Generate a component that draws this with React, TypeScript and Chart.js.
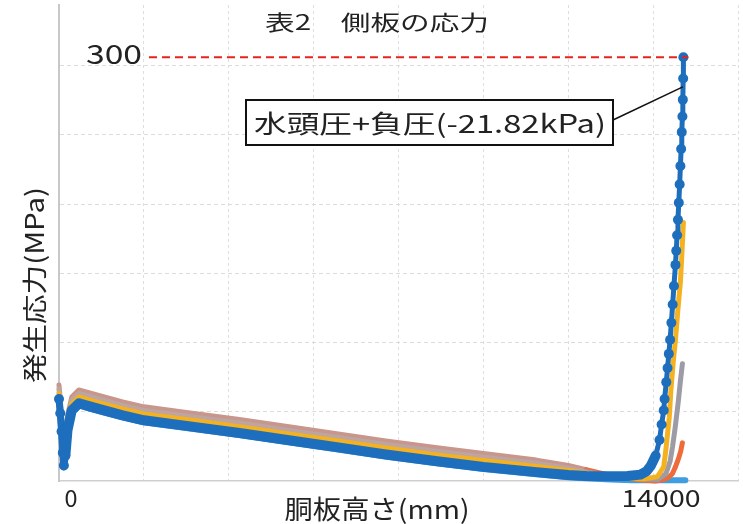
import React, { useEffect, useRef } from "react";
import { Chart, registerables } from "chart.js";

Chart.register(...registerables);

const FONT = '"Noto Sans CJK JP", "Noto Sans", sans-serif';

// ---- data (mm, MPa) ----
const blueX = [0, 30, 60, 90, 115, 150, 200, 300, 470, 700, 1000, 1500, 2000, 3000, 4250, 5500, 6580, 7700, 8910, 10000, 11250, 12000, 12420,
  13000, 13400, 13700, 13850, 13950, 14060, 14150, 14200, 14250, 14270, 14310, 14340, 14370, 14400, 14430, 14460, 14490, 14526, 14545, 14565, 14585, 14605, 14625, 14643, 14660, 14675, 14690, 14700, 14708, 14713];
const blueY = [58, 48, 35, 20, 11, 18, 36, 50, 55, 53, 50.5, 46.5, 43, 39, 34, 28.5, 23.8, 18.8, 14, 10, 6.3, 4.2, 3.5,
  3.3, 3.5, 4.5, 7, 11, 18, 29, 40, 50, 58, 70, 80, 90, 100, 112, 125, 138, 153, 163, 174, 185, 197, 210, 223, 235, 247, 258, 270, 285, 300];

const yellowX = [0, 30, 60, 90, 115, 150, 200, 300, 470, 700, 1000, 1500, 2000, 3000, 4250, 5500, 6580, 7700, 8910, 10000, 11250, 12000, 12420,
  13000, 13400, 13800, 14100, 14250, 14300, 14380, 14420, 14470, 14526, 14580, 14643, 14680, 14713];
const yellowY = [62, 52, 39, 24, 15, 22, 40, 54.5, 59.5, 57.5, 55, 51, 47.5, 43.5, 38.5, 33, 28.3, 23.3, 18.5, 14.5, 10.3, 7.5, 5.5,
  3, 2, 1.5, 3, 10, 22, 45, 65, 83, 100, 120, 141, 162, 183];

const grayX = [0, 30, 60, 90, 115, 150, 200, 300, 470, 700, 1000, 1500, 2000, 3000, 4250, 5500, 6580, 7700, 8910, 10000, 11250, 12000, 12420,
  13000, 13400, 13800, 14100, 14300, 14400, 14456, 14520, 14596, 14640, 14690];
const grayY = [65, 55, 42, 27, 18, 25, 43, 57, 62, 60, 57.5, 53.5, 50, 46, 41, 35.5, 30.8, 25.8, 21, 17, 12.5, 9, 6.5,
  3.5, 2, 1.5, 1, 5, 14, 24, 38, 57, 70, 83];

const orangeX = [0, 30, 60, 90, 115, 150, 200, 300, 470, 700, 1000, 1500, 2000, 3000, 4250, 5500, 6580, 7700, 8910, 10000, 11250, 12000, 12420,
  13000, 13400, 13800, 14058, 14250, 14362, 14450, 14526, 14600, 14650, 14690];
const orangeY = [68, 58, 45, 30, 21, 28, 46, 59.5, 64.5, 62.5, 60, 56, 52.5, 48.5, 43.5, 38, 33.3, 28.3, 23.5, 19.5, 14.8, 11, 8,
  4, 2, 0.5, 0, 1, 2.5, 5, 10, 16, 21, 27];

const lightBlueX = [0, 30, 60, 90, 115, 150, 200, 300, 470, 700, 1000, 1500, 2000, 3000, 4250, 5500, 6580, 7700, 8910, 10000, 11250, 12000, 12420,
  13000, 13500, 14000, 14300, 14500, 14760];
const lightBlueY = [56.5, 46.5, 33.5, 18.5, 9.5, 16.5, 34.5, 48.5, 53.5, 51.5, 49, 45, 41.5, 37.5, 32.5, 27, 22.3, 17.3, 12.5, 8.5, 4.8, 2.7, 2,
  1, 0.5, 0.5, 0.5, 0.5, 0.5];

const limitX = [2120, 14830];
const limitY = [300, 300];

const gridY = [49, 98, 147, 196, 245, 294];

const title = "表2　側板の応力";
const xTitle = "胴板高さ(mm)";
const yTitle = "発生応力(MPa)";
const xTickLabels = ["0", "14000"];
const limitLabel = "300";
const calloutText = "水頭圧+負圧(-21.82kPa)";
const calloutTarget = [14700, 279];

const toPts = (xs: number[], ys: number[]) => xs.map((x, i) => ({ x, y: ys[i] }));

function fitText(ctx: CanvasRenderingContext2D, text: string, cx: number, cy: number, w: number, size: number, rotate = false) {
  ctx.save();
  ctx.font = `${size}px ${FONT}`;
  const m = ctx.measureText(text).width;
  ctx.translate(cx, cy);
  if (rotate) ctx.rotate(-Math.PI / 2);
  ctx.scale(w / m, 1);
  ctx.textAlign = "center";
  ctx.textBaseline = "middle";
  ctx.fillStyle = "#222";
  ctx.fillText(text, 0, 0);
  ctx.restore();
}

const textPlugin = {
  id: "texts",
  afterDatasetsDraw(chart: any) {
    const ctx: CanvasRenderingContext2D = chart.ctx;
    const xs = chart.scales.x;
    const ys = chart.scales.y;
    const tx = xs.getPixelForValue(calloutTarget[0]);
    const ty = ys.getPixelForValue(calloutTarget[1]);
    ctx.save();
    ctx.strokeStyle = "#111";
    ctx.lineWidth = 1.5;
    ctx.beginPath();
    ctx.moveTo(613, 120);
    ctx.lineTo(tx, ty);
    ctx.stroke();
    ctx.fillStyle = "#fff";
    ctx.fillRect(246, 100, 367, 45);
    ctx.lineWidth = 2;
    ctx.strokeRect(246, 100, 367, 45);
    ctx.restore();
    fitText(ctx, calloutText, 430, 123, 352, 25);
  },
  afterDraw(chart: any) {
    const ctx: CanvasRenderingContext2D = chart.ctx;
    fitText(ctx, title, 377, 22, 224, 21);
    fitText(ctx, limitLabel, 114, 54, 56, 27);
    fitText(ctx, xTickLabels[0], 71, 498, 13, 24);
    fitText(ctx, xTickLabels[1], 661, 498, 79, 24);
    fitText(ctx, xTitle, 377, 509, 185, 26);
    fitText(ctx, yTitle, 34, 285, 196, 25, true);
  },
};

const lineBase = { pointRadius: 0, borderJoinStyle: "round", borderCapStyle: "round", tension: 0 };

export default function App() {
  const ref = useRef<HTMLCanvasElement>(null);
  useEffect(() => {
    if (!ref.current) return;
    const blue = "#1d6ebd";
    const segWidth = (c: any) => {
      if (c.p1.parsed.x <= 150) return 7;
      if (c.p0.parsed.x > 14000 && c.p1.parsed.y > 25) return 5;
      return 10;
    };
    const chart = new Chart(ref.current, {
      type: "line",
      data: {
        datasets: [
          {
            ...lineBase,
            data: toPts(limitX, limitY),
            borderColor: "#e8221c",
            borderWidth: 2,
            borderCapStyle: "butt",
            borderDash: [8, 5],
          },
          {
            ...lineBase,
            data: toPts(blueX, blueY),
            borderColor: blue,
            backgroundColor: blue,
            borderWidth: 10,
            pointRadius: (c: any) => {
              const r = c.raw;
              if (!r) return 0;
              return r.x <= 150 || (r.x > 14000 && r.y > 20) ? 5 : 0;
            },
            pointBorderWidth: 0,
            pointBackgroundColor: blue,
            segment: {
              borderWidth: segWidth,
            },
          },
          {
            ...lineBase,
            data: toPts(yellowX, yellowY),
            borderColor: "#f4b120",
            borderWidth: 5,
          },
          {
            ...lineBase,
            data: toPts(grayX, grayY),
            borderColor: "#9d9ca6",
            borderWidth: 5,
            segment: {
              borderColor: (c: any) => (c.p1.parsed.x < 12500 ? "#bca5a2" : "#9d9ca6"),
            },
          },
          {
            ...lineBase,
            data: toPts(orangeX, orangeY),
            borderColor: "#ee6c3a",
            borderWidth: 5,
            segment: {
              borderColor: (c: any) => (c.p1.parsed.x < 12500 ? "#c8968a" : "#ee6c3a"),
            },
          },
          {
            ...lineBase,
            data: toPts(lightBlueX, lightBlueY),
            borderColor: "#3f9de0",
            borderWidth: 6,
          },
        ],
      },
      options: {
        animation: false,
        responsive: false,
        clip: false as any,
        layout: { padding: 0 },
        plugins: { legend: { display: false }, tooltip: { enabled: false }, title: { display: false } },
        scales: {
          x: {
            type: "linear",
            min: 0,
            max: 16000,
            ticks: { display: false, stepSize: 2000 },
            grid: { color: "#dedede", drawTicks: false },
            border: { display: true, color: "#cfcfcf", width: 1.5, dash: [3, 3] },
            afterFit: (s: any) => {
              s.height = 43;
            },
          },
          y: {
            type: "linear",
            min: 0,
            max: 337,
            ticks: { display: false },
            afterBuildTicks: (s: any) => {
              s.ticks = gridY.map((v) => ({ value: v }));
            },
            grid: { color: "#dcdcdc", drawTicks: false },
            border: { display: true, color: "#c8c8c8", width: 2, dash: [4, 3] },
            afterFit: (s: any) => {
              s.width = 59;
            },
          },
        },
      } as any,
      plugins: [textPlugin],
    });
    return () => chart.destroy();
  }, []);
  return (
    <div style={{ position: "fixed", left: 0, top: 0, width: 743, height: 524, background: "#fff" }}>
      <canvas ref={ref} width={743} height={524} style={{ width: 743, height: 524 }} />
    </div>
  );
}
